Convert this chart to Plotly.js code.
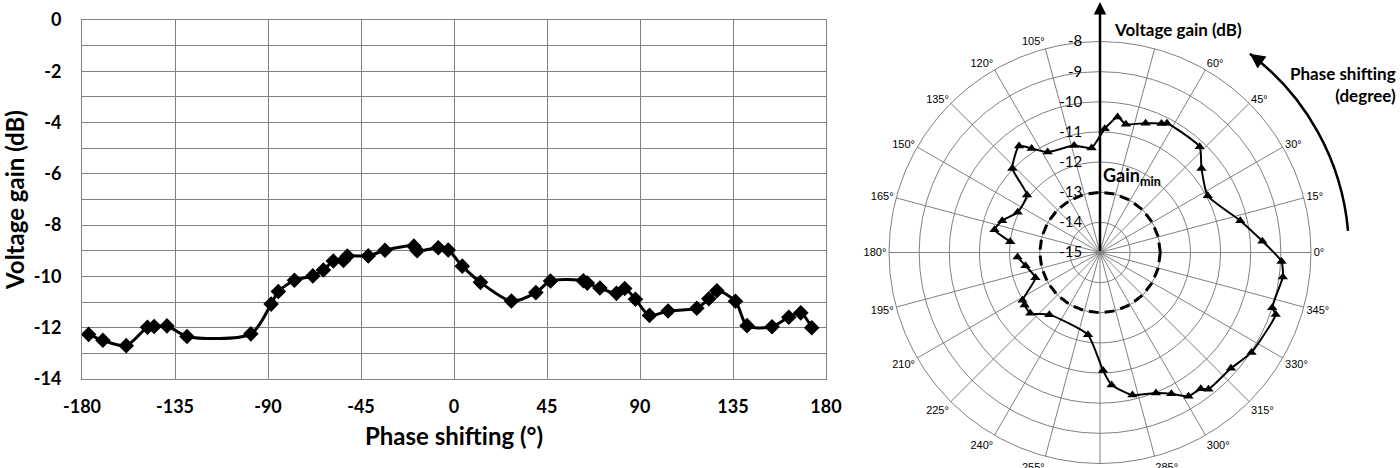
<!DOCTYPE html>
<html>
<head>
<meta charset="utf-8">
<script src="https://cdn.plot.ly/plotly-3.0.1.min.js"></script>
<style>
  html, body { margin: 0; padding: 0; background: #fff; }
  #chart { width: 1400px; height: 468px; }
</style>
</head>
<body>
<div id="chart"></div>
<script>
// ---- data (same series drawn twice) ----
const phase = [-176.8, -169.9, -158.6, -148.3, -145.1, -138.9, -129.2, -98.3, -88.5, -85.0,
               -77.2, -68.3, -63.2, -58.4, -53.5, -51.6, -41.5, -33.4, -19.4, -17.8,
               -7.6, -2.8, 4.0, 12.8, 27.8, 39.6, 46.7, 62.6, 64.5, 70.6,
               78.6, 82.6, 87.8, 94.6, 103.6, 117.5, 123.3, 127.2, 136.2, 141.8,
               153.9, 162.0, 167.8, 173.1];
const gain  = [-12.26, -12.49, -12.70, -11.98, -11.95, -11.93, -12.34, -12.24, -11.08, -10.59,
               -10.15, -9.98, -9.75, -9.40, -9.38, -9.21, -9.20, -8.98, -8.82, -9.00,
               -8.88, -8.97, -9.60, -10.23, -10.96, -10.63, -10.18, -10.17, -10.26, -10.45,
               -10.66, -10.47, -10.89, -11.52, -11.35, -11.24, -10.87, -10.56, -10.97, -11.92,
               -11.96, -11.59, -11.42, -12.00];

const xTicks = [-180, -135, -90, -45, 0, 45, 90, 135, 180];
const yTicks = [0, -2, -4, -6, -8, -10, -12, -14];

const radialTicks = [-15, -14, -13, -12, -11, -10, -9, -8];
const angleTicks  = [0, 15, 30, 45, 60, 75, 90, 105, 120, 135, 150, 165,
                     180, 195, 210, 225, 240, 255, 270, 285, 300, 315, 330, 345];
const hiddenAngleLabels = [75, 90, 270];   // covered in the original
const gainMin = -13;
const ringTheta = [0, 15, 30, 45, 60, 75, 90, 105, 120, 135, 150, 165, 180,
                   195, 210, 225, 240, 255, 270, 285, 300, 315, 330, 345, 360];

// ---- helpers ----
const W = 1400, H = 468;
const fx = x => x / W;
const fy = y => 1 - y / H;
const FONT = "Lato, 'Open Sans', sans-serif";
const GRID = "#808080";
const bold = v => "<b>" + v + "</b>";   // hyphen minus, like the original

// curved "phase shifting" arrow around the polar centre (pixel geometry)
function arcPath(cx, cy, r, a0, a1) {
    const rad = d => d * Math.PI / 180;
    const k = 4 / 3 * Math.tan(rad(a1 - a0) / 4) * r;
    const p0 = [cx + r * Math.cos(rad(a0)), cy - r * Math.sin(rad(a0))];
    const p3 = [cx + r * Math.cos(rad(a1)), cy - r * Math.sin(rad(a1))];
    const p1 = [p0[0] - k * Math.sin(rad(a0)), p0[1] - k * Math.cos(rad(a0))];
    const p2 = [p3[0] + k * Math.sin(rad(a1)), p3[1] + k * Math.cos(rad(a1))];
    const P = p => fx(p[0]).toFixed(5) + "," + fy(p[1]).toFixed(5);
    return { path: "M" + P(p0) + " C" + P(p1) + " " + P(p2) + " " + P(p3), tip: p3 };
}
const arc = arcPath(1100, 252.5, 249, 5, 53);

const traces = [
    {
        type: "scatter",
        x: phase, y: gain,
        mode: "lines+markers",
        line: { color: "#000", width: 3, shape: "spline", smoothing: 0.8 },
        marker: { symbol: "diamond", size: 12, color: "#000" },
        hoverinfo: "skip"
    },
    {
        type: "scatterpolar",
        theta: ringTheta, r: ringTheta.map(() => gainMin),
        mode: "lines",
        line: { color: "#000", width: 3, dash: "10px,6px" },
        hoverinfo: "skip"
    },
    {
        type: "scatterpolar",
        theta: phase, r: gain,
        mode: "lines+markers",
        line: { color: "#000", width: 2, shape: "spline", smoothing: 0.5 },
        marker: { symbol: "triangle-up", size: 9, color: "#000" },
        hoverinfo: "skip"
    }
];

const layout = {
    width: W, height: H,
    margin: { l: 0, r: 0, t: 0, b: 0 },
    paper_bgcolor: "#fff",
    plot_bgcolor: "#fff",
    showlegend: false,
    font: { family: FONT, color: "#000" },
    xaxis: {
        domain: [fx(82), fx(826)],
        range: [-180, 180],
        tickvals: xTicks,
        ticktext: xTicks.map(bold),
        showgrid: true, gridcolor: GRID, gridwidth: 1,
        showline: true, mirror: true, linecolor: GRID, linewidth: 1,
        zeroline: false,
        ticks: "",
        ticklabelstandoff: 11,
        tickfont: { family: FONT, size: 18, color: "#000" },
        title: { text: "<b>Phase shifting (°)</b>", font: { family: FONT, size: 24 }, standoff: 12 }
    },
    yaxis: {
        domain: [fy(379), fy(20)],
        range: [-14, 0],
        tickvals: yTicks,
        ticktext: yTicks.map(bold),
        showgrid: true, gridcolor: GRID, gridwidth: 1,
        minor: { dtick: 1, showgrid: true, gridcolor: GRID, gridwidth: 1 },
        showline: true, mirror: true, linecolor: GRID, linewidth: 1,
        zeroline: false,
        ticks: "",
        ticklabelstandoff: 16,
        tickfont: { family: FONT, size: 18, color: "#000" },
        title: { text: "<b>Voltage gain (dB)</b>", font: { family: FONT, size: 24 }, standoff: 8 }
    },
    polar: {
        domain: { x: [fx(889), fx(1311)], y: [fy(463.5), fy(41.5)] },
        bgcolor: "#fff",
        radialaxis: {
            range: [-15, -8],
            angle: 90,
            side: "counterclockwise",
            tickangle: 90,
            tickvals: radialTicks,
            ticktext: radialTicks.map(String),
            showline: false,
            ticks: "outside", ticklen: 12, tickcolor: "rgba(0,0,0,0)",
            gridcolor: GRID, gridwidth: 1,
            tickfont: { family: FONT, size: 15, color: "#000" }
        },
        angularaxis: {
            rotation: 0,
            direction: "counterclockwise",
            tickmode: "array",
            tickvals: angleTicks,
            ticktext: angleTicks.map(a => hiddenAngleLabels.includes(a) ? "" : a + "°"),
            ticks: "",
            showline: true, linecolor: GRID, linewidth: 1,
            gridcolor: GRID, gridwidth: 1,
            tickfont: { family: "'Liberation Sans', Arial, sans-serif", size: 11, color: "#000" }
        }
    },
    shapes: [
        { type: "path", xref: "paper", yref: "paper", path: arc.path,
          line: { color: "#000", width: 2.5 } }
    ],
    annotations: [
        // vertical gain axis arrow of the polar plot
        { xref: "paper", yref: "paper", x: fx(1100), y: fy(2), ax: 0, ay: 250.5,
          text: "", showarrow: true, arrowhead: 2, arrowsize: 1, arrowwidth: 2.5, arrowcolor: "#000" },
        // head of the curved arrow
        { xref: "paper", yref: "paper", x: fx(arc.tip[0]), y: fy(arc.tip[1]), ax: 11, ay: 8,
          text: "", showarrow: true, arrowhead: 2, arrowsize: 1.2, arrowwidth: 2.5, arrowcolor: "#000" },
        { xref: "paper", yref: "paper", x: fx(1178), y: fy(29.5), xanchor: "center", yanchor: "middle",
          showarrow: false, bgcolor: "#fff",
          text: "<b>Voltage gain (dB)</b>", font: { family: FONT, size: 17 } },
        { xref: "paper", yref: "paper", x: fx(1398), y: fy(84.5), xanchor: "right", yanchor: "middle",
          align: "right", showarrow: false, text: "<b>Phase shifting<br>(degree)</b>",
          font: { family: FONT, size: 17 } },
        { xref: "paper", yref: "paper", x: fx(1132), y: fy(176), xanchor: "center", yanchor: "middle",
          showarrow: false, text: "<b>Gain<sub>min</sub></b>", font: { family: FONT, size: 18 } }
    ]
};

Plotly.newPlot("chart", traces, layout, { displayModeBar: false, staticPlot: true });
</script>
</body>
</html>
